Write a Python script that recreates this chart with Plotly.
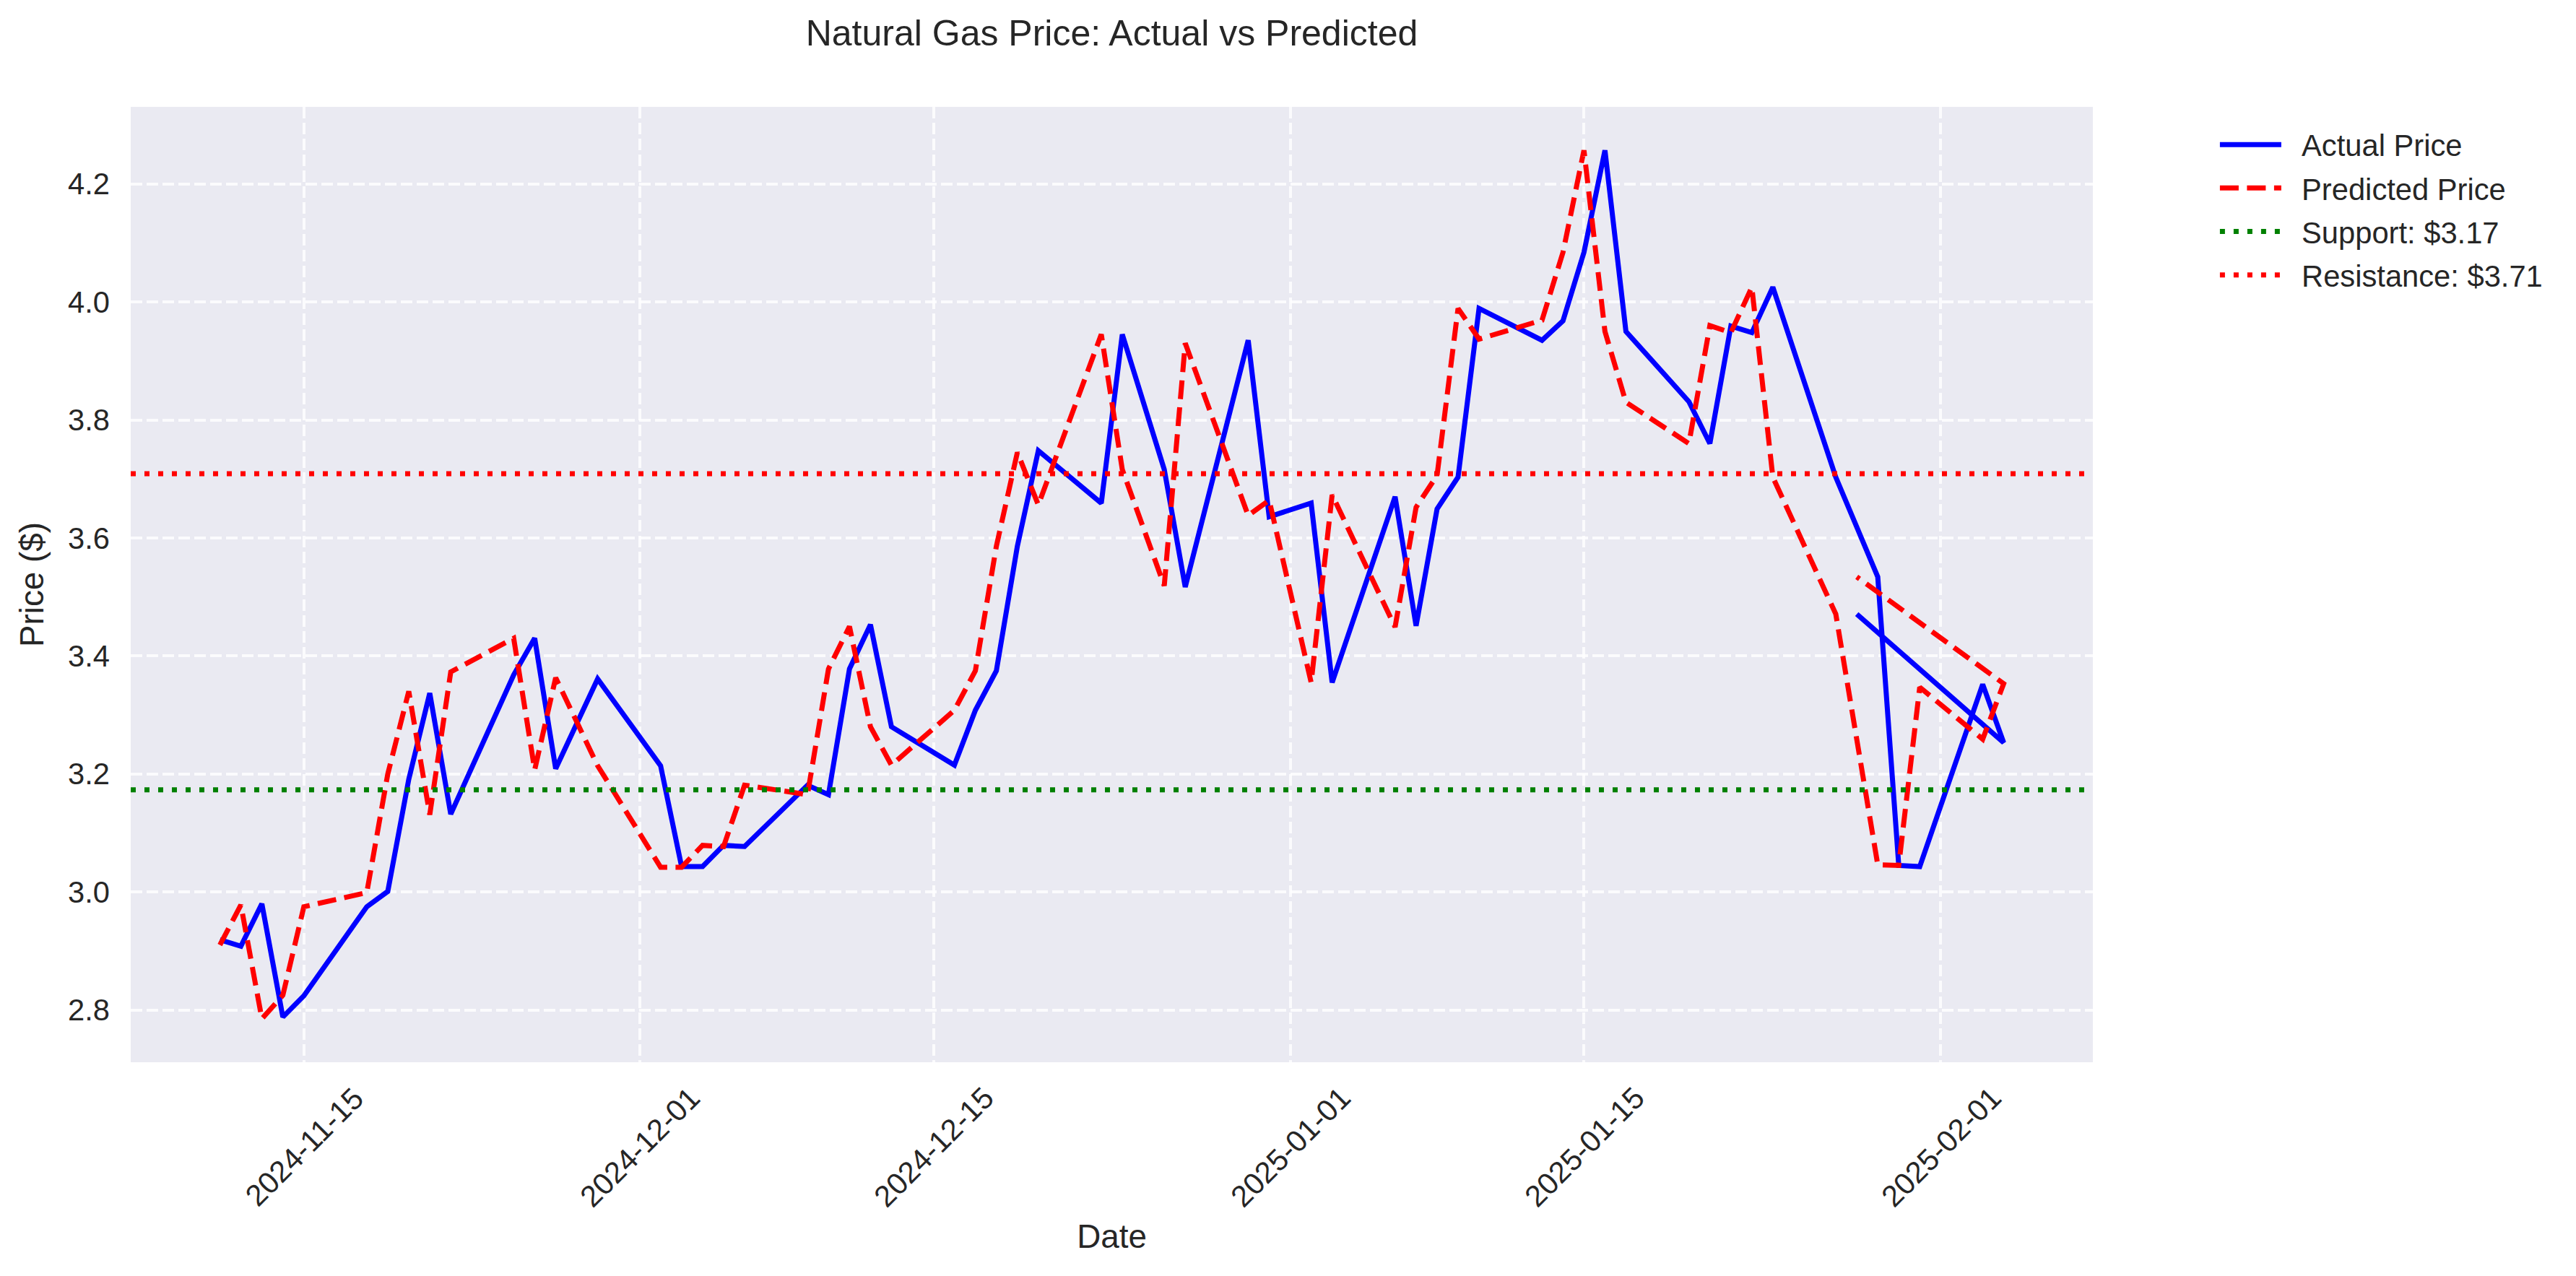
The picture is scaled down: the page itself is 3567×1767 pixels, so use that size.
import pandas as pd
import plotly.graph_objects as go

# ---------------- data ----------------
dates = [
    "2024-11-11", "2024-11-12", "2024-11-13", "2024-11-14", "2024-11-15",
    "2024-11-18", "2024-11-19", "2024-11-20", "2024-11-21", "2024-11-22",
    "2024-11-25", "2024-11-26", "2024-11-27", "2024-11-29",
    "2024-12-02", "2024-12-03", "2024-12-04", "2024-12-05", "2024-12-06",
    "2024-12-09", "2024-12-10", "2024-12-11", "2024-12-12", "2024-12-13",
    "2024-12-16", "2024-12-17", "2024-12-18", "2024-12-19", "2024-12-20",
    "2024-12-23", "2024-12-24", "2024-12-26", "2024-12-27",
    "2024-12-30", "2024-12-31", "2025-01-02", "2025-01-03",
    "2025-01-06", "2025-01-07", "2025-01-08", "2025-01-09", "2025-01-10",
    "2025-01-13", "2025-01-14", "2025-01-15", "2025-01-16", "2025-01-17",
    "2025-01-20", "2025-01-21", "2025-01-22", "2025-01-23", "2025-01-24",
    "2025-01-27", "2025-01-29", "2025-01-30", "2025-01-31",
    "2025-02-03", "2025-02-04", "2025-01-28",
]

actual = [
    2.919, 2.908, 2.980, 2.788, 2.824,
    2.975, 3.001, 3.191, 3.337, 3.132,
    3.368, 3.430, 3.209, 3.361,
    3.214, 3.043, 3.043, 3.079, 3.077,
    3.181, 3.165, 3.378, 3.453, 3.280,
    3.215, 3.308, 3.375, 3.586, 3.748,
    3.659, 3.945, 3.716, 3.517,
    3.935, 3.636, 3.659, 3.355,
    3.670, 3.451, 3.649, 3.703, 3.989,
    3.935, 3.968, 4.084, 4.257, 3.950,
    3.831, 3.760, 3.959, 3.948, 4.025,
    3.703, 3.534, 3.045, 3.043,
    3.352, 3.253, 3.471,
]

predicted = [
    2.910, 2.978, 2.785, 2.825, 2.975,
    2.999, 3.200, 3.340, 3.131, 3.373,
    3.430, 3.207, 3.363, 3.214,
    3.042, 3.042, 3.079, 3.077, 3.181,
    3.165, 3.378, 3.450, 3.280, 3.215,
    3.308, 3.375, 3.586, 3.745, 3.656,
    3.945, 3.716, 3.519, 3.930,
    3.638, 3.664, 3.355, 3.673,
    3.449, 3.652, 3.706, 3.989, 3.937,
    3.969, 4.084, 4.257, 3.950, 3.830,
    3.760, 3.960, 3.948, 4.025, 3.703,
    3.471, 3.046, 3.045, 3.347,
    3.259, 3.353, 3.534,
]

support = 3.173
resistance = 3.709

xtick_dates = ["2024-11-15", "2024-12-01", "2024-12-15",
               "2025-01-01", "2025-01-15", "2025-02-01"]
ytick_vals = [2.8, 3.0, 3.2, 3.4, 3.6, 3.8, 4.0, 4.2]

# ---------------- styling constants ----------------
W, H = 3567, 1767
ML, MR, MT, MB = 181, 3567 - 2898, 148, 1767 - 1471
FONT = "Liberation Sans, Arial, Helvetica, sans-serif"
TXT = "#262626"
LW = 7
DASH = "26px,11.5px"
DOT = "7px,12px"
GRID_DASH = "15.5px,6.5px"
PAD = "\u00a0\u00a0"  # small gap between legend sample and label

# ---------------- axis limits (matplotlib-style 5% margins) ----------------
d = pd.to_datetime(pd.Series(dates))
dmin, dmax = d.min(), d.max()
span = dmax - dmin
x0, x1 = dmin - span * 0.05, dmax + span * 0.05
allv = actual + predicted
ymin, ymax = min(allv), max(allv)
yr = ymax - ymin
y0, y1 = ymin - 0.05 * yr, ymax + 0.05 * yr

fig = go.Figure()
fig.add_trace(go.Scatter(x=d, y=actual, mode="lines", name=PAD + "Actual Price",
                         legendgroup="a",
                         line=dict(color="#0000FF", width=LW)))
fig.add_trace(go.Scatter(x=d, y=predicted, mode="lines", name=PAD + "Predicted Price",
                         legendgroup="b",
                         line=dict(color="#FF0000", width=LW, dash=DASH)))

fig.add_hline(y=support, line=dict(color="#008000", width=LW, dash=DOT),
              showlegend=True, legendgroup="c",
              name=PAD + f"Support: ${support:.2f}", layer="above")
fig.add_hline(y=resistance, line=dict(color="#FF0000", width=LW, dash=DOT),
              showlegend=True, legendgroup="d",
              name=PAD + f"Resistance: ${resistance:.2f}", layer="above")

# rotated x tick labels (centered on tick, like matplotlib rotation=45)
for t in xtick_dates:
    fig.add_annotation(x=t, y=0, xref="x", yref="paper", text=t, showarrow=False,
                       textangle=-45, xanchor="center", yanchor="middle",
                       yshift=-117, font=dict(family=FONT, size=41.7, color=TXT))

fig.update_layout(
    width=W, height=H, autosize=False,
    margin=dict(l=ML, r=MR, t=MT, b=MB, pad=0),
    template="none",
    paper_bgcolor="white",
    plot_bgcolor="#EAEAF2",
    font=dict(family=FONT, size=41.7, color=TXT),
    title=dict(text="Natural Gas Price: Actual vs Predicted",
               x=0.5, xref="paper", xanchor="center",
               y=1 - 45 / H, yref="container", yanchor="middle",
               font=dict(family=FONT, size=50, color=TXT)),
    showlegend=True,
    legend=dict(x=1.0629, xanchor="left", y=0.986, yanchor="top",
                bgcolor="rgba(0,0,0,0)", borderwidth=0,
                font=dict(family=FONT, size=41.7, color=TXT),
                itemwidth=85, traceorder="grouped", tracegroupgap=3),
    xaxis=dict(type="date", range=[x0, x1], tickvals=xtick_dates,
               showticklabels=False, ticks="", showline=False, zeroline=False,
               showgrid=True, gridcolor="rgba(255,255,255,0.8)", gridwidth=4,
               griddash=GRID_DASH,
               title=dict(text="Date", standoff=224,
                          font=dict(family=FONT, size=45.8, color=TXT))),
    yaxis=dict(range=[y0, y1], tickvals=ytick_vals,
               ticktext=[f"{v:.1f}" for v in ytick_vals],
               ticks="", ticklabelstandoff=28, showline=False, zeroline=False,
               showgrid=True, gridcolor="rgba(255,255,255,0.8)", gridwidth=4,
               griddash=GRID_DASH,
               tickfont=dict(family=FONT, size=41.7, color=TXT),
               title=dict(text="Price ($)", standoff=19,
                          font=dict(family=FONT, size=45.8, color=TXT))),
)

fig.write_html("out.html", config={"displayModeBar": False},
               post_script="document.body.style.margin='0';")
